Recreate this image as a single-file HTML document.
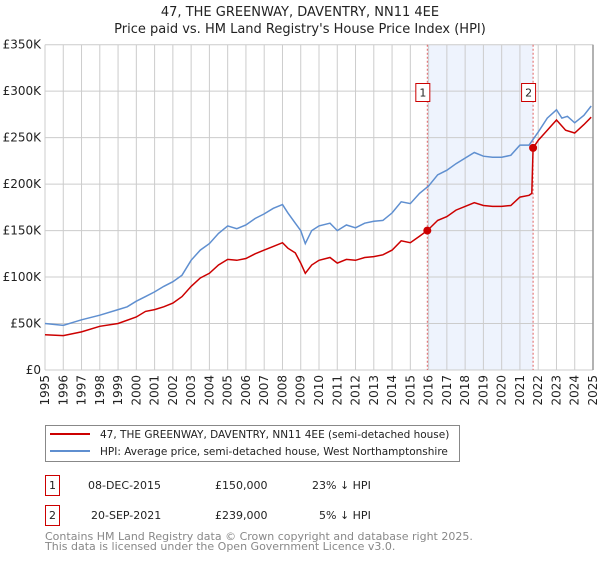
<!DOCTYPE html>
<html><head><meta charset="utf-8"><style>
body{margin:0;background:#fff;font-family:"Liberation Sans","DejaVu Sans",sans-serif;}
svg text{font-family:"DejaVu Sans","Liberation Sans",sans-serif;}
</style></head><body>
<svg id="c" width="600" height="560" xmlns="http://www.w3.org/2000/svg">
<text x="300" y="16" text-anchor="middle" font-size="13" fill="#222">47, THE GREENWAY, DAVENTRY, NN11 4EE</text>
<text x="300" y="33" text-anchor="middle" font-size="13" fill="#222">Price paid vs. HM Land Registry's House Price Index (HPI)</text>
<g id="grid"></g><g id="plot"></g>
<rect x="45.5" y="425.5" width="414" height="36" fill="#fff" stroke="#888"/>
<line x1="50" y1="434" x2="90" y2="434" stroke="#cc0000" stroke-width="2"/>
<text x="100" y="438" font-size="10.5" fill="#222">47, THE GREENWAY, DAVENTRY, NN11 4EE (semi-detached house)</text>
<line x1="50" y1="451" x2="90" y2="451" stroke="#5f8fd0" stroke-width="2"/>
<text x="100" y="455" font-size="10.5" fill="#222">HPI: Average price, semi-detached house, West Northamptonshire</text>
<g font-size="11" fill="#222">
<rect x="45.5" y="475.5" width="14" height="20" fill="#fff" stroke="#cc0000"/><text x="52.5" y="489" text-anchor="middle">1</text>
<text x="88" y="489">08-DEC-2015</text><text x="215" y="489">£150,000</text><text x="312" y="489">23% ↓ HPI</text>
<rect x="45.5" y="505.5" width="14" height="20" fill="#fff" stroke="#cc0000"/><text x="52.5" y="519" text-anchor="middle">2</text>
<text x="91" y="519">20-SEP-2021</text><text x="215" y="519">£239,000</text><text x="319" y="519">5% ↓ HPI</text>
</g>
<text x="45" y="540" font-size="11" fill="#888">Contains HM Land Registry data © Crown copyright and database right 2025.</text>
<text x="45" y="550" font-size="11" fill="#888">This data is licensed under the Open Government Licence v3.0.</text>
</svg>
<script>
const hpiYears=[1995,1996,1997,1998,1999,1999.5,2000,2000.5,2001,2001.5,2002,2002.5,2003,2003.5,2004,2004.5,2005,2005.5,2006,2006.5,2007,2007.5,2008,2008.3,2008.7,2009,2009.25,2009.6,2010,2010.6,2011,2011.5,2012,2012.5,2013,2013.5,2014,2014.5,2015,2015.5,2016,2016.5,2017,2017.5,2018,2018.5,2019,2019.5,2020,2020.5,2021,2021.5,2022,2022.5,2023,2023.3,2023.6,2024,2024.5,2024.9];
const hpiValues=[50,48,54,59,65,68,74,79,84,90,95,102,118,129,136,147,155,152,156,163,168,174,178,169,158,150,136,150,155,158,150,156,153,158,160,161,169,181,179,190,198,210,215,222,228,234,230,229,229,231,242,242,256,271,280,271,273,266,274,284];
const redYears=[1995,1996,1997,1998,1999,2000,2000.5,2001,2001.5,2002,2002.5,2003,2003.5,2004,2004.5,2005,2005.5,2006,2006.5,2007,2007.5,2008,2008.3,2008.7,2009,2009.25,2009.6,2010,2010.6,2011,2011.5,2012,2012.5,2013,2013.5,2014,2014.5,2015,2015.5,2015.93,2016.5,2017,2017.5,2018,2018.5,2019,2019.5,2020,2020.5,2021,2021.5,2021.65,2021.72,2022,2022.5,2023,2023.5,2024,2024.5,2024.9];
const redValues=[38,37,41,47,50,57,63,65,68,72,79,90,99,104,113,119,118,120,125,129,133,137,131,126,115,104,113,118,121,115,119,118,121,122,124,129,139,137,144,150,161,165,172,176,180,177,176,176,177,186,188,190,239,247,258,269,258,255,264,272];
const saleYears=[2015.93,2021.72];
const saleValues=[150,239];
const saleLabels=["1","2"];
const yTicks=[0,50,100,150,200,250,300,350];
const yTickLabels=["£0","£50K","£100K","£150K","£200K","£250K","£300K","£350K"];
const xTicks=[1995,1996,1997,1998,1999,2000,2001,2002,2003,2004,2005,2006,2007,2008,2009,2010,2011,2012,2013,2014,2015,2016,2017,2018,2019,2020,2021,2022,2023,2024,2025];

const NS="http://www.w3.org/2000/svg";
const X=y=>45+(y-1995)*(548/30);
const Y=v=>370-v*(325.3/350);
function mk(t,a,p){const e=document.createElementNS(NS,t);for(const k in a)e.setAttribute(k,a[k]);p.appendChild(e);return e;}
const grid=document.getElementById('grid'),plot=document.getElementById('plot');
const sh=mk('rect',{x:X(saleYears[0]),y:Y(350),width:X(saleYears[1])-X(saleYears[0]),height:Y(0)-Y(350),fill:'#eef3fd'},grid);


yTicks.forEach((t,i)=>{
 const l=mk('line',{x1:45,x2:593,y1:Y(t),y2:Y(t),stroke:'#ccc'},grid);
 
 
 const tx=mk('text',{x:41,y:Y(t)+4,'text-anchor':'end','font-size':12,fill:'#222'},grid);
 tx.textContent=yTickLabels[i];
 
 
});
xTicks.forEach(t=>{
 const l=mk('line',{x1:X(t),x2:X(t),y1:Y(350),y2:Y(0),stroke:'#ccc'},grid);
 
 
 const tx=mk('text',{transform:`translate(${X(t)+4},${Y(0)+5}) rotate(-90)`,'text-anchor':'end','font-size':12,fill:'#222'},grid);
 tx.textContent=t;
 
 
});
const edge=mk('line',{x1:X(2025),x2:X(2025),y1:Y(350),y2:Y(0),stroke:'#999','stroke-width':1.5},grid);


saleYears.forEach((s,i)=>{
 const l=mk('line',{x1:X(s),x2:X(s),y1:Y(350),y2:Y(0),stroke:'#e06060','stroke-dasharray':'2,2'},grid);
 
 
});
function path(xs,vs,col,name){
 const d=xs.map((x,i)=>(i?'L':'M')+X(x).toFixed(1)+','+Y(vs[i]).toFixed(1)).join('');
 const p=mk('path',{d,fill:'none',stroke:col,'stroke-width':1.5},plot);
 
 
}
path(hpiYears,hpiValues,'#5f8fd0','hpi-line');
path(redYears,redValues,'#cc0000','price-paid-line');
saleYears.forEach((s,i)=>{
 const c=mk('circle',{cx:X(s),cy:Y(saleValues[i]),r:4,fill:'#cc0000'},plot);
 
 
 const r=mk('rect',{x:X(s)-11.5,y:83.5,width:14,height:18,fill:'#fff',stroke:'#cc0000'},plot);
 
 
 const t=mk('text',{x:X(s)-4.5,y:96.5,'text-anchor':'middle','font-size':11,fill:'#222'},plot);
 t.textContent=saleLabels[i];
 
 
});
</script>
</body></html>
